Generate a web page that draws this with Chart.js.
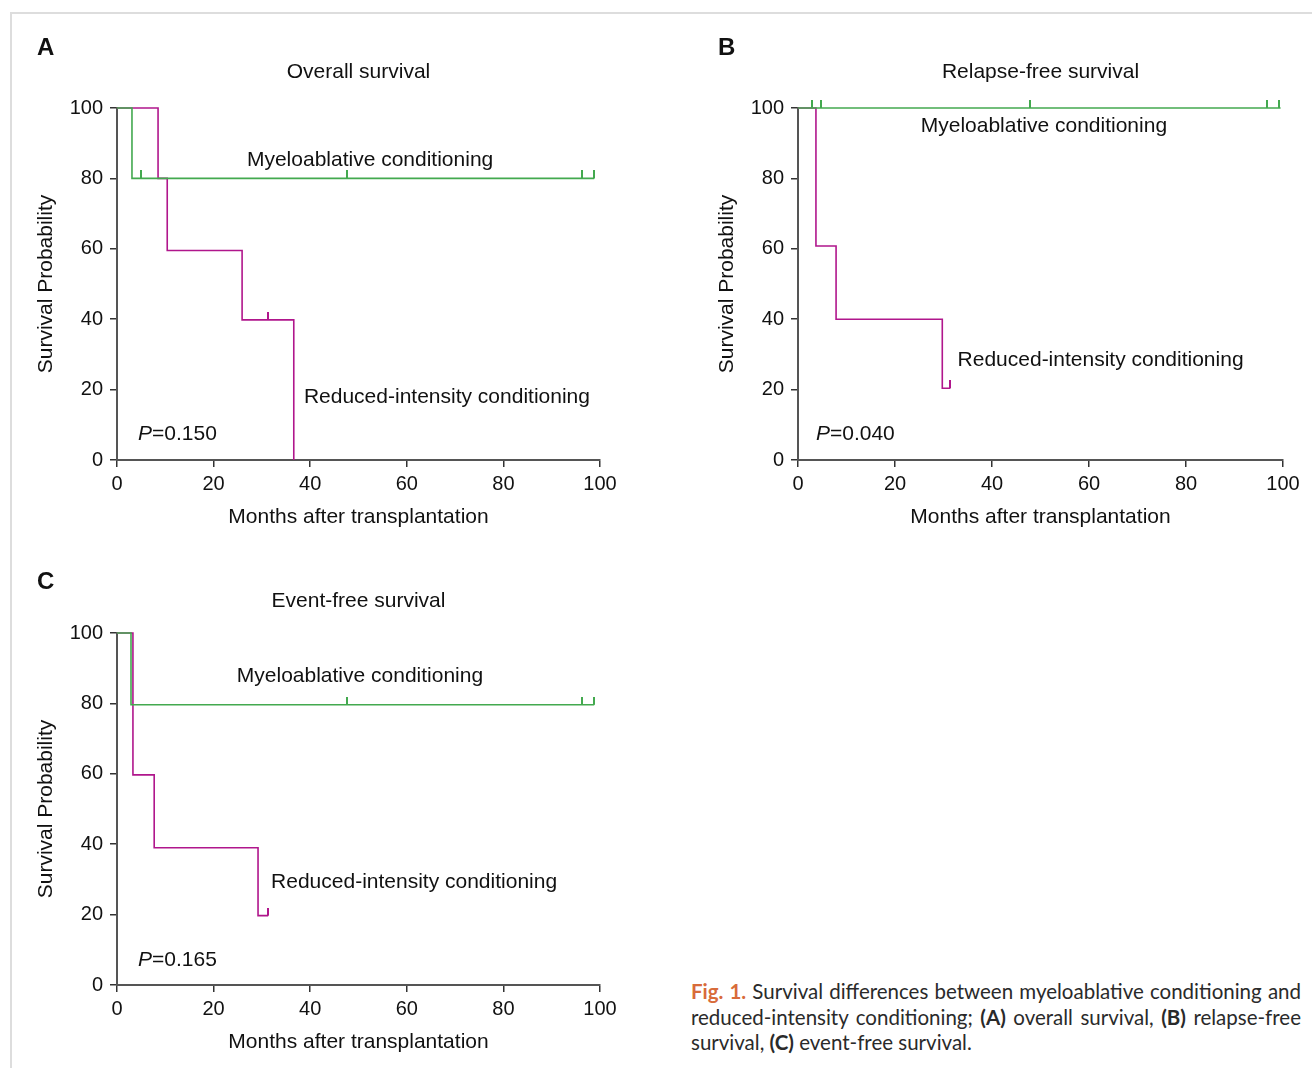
<!DOCTYPE html>
<html>
<head>
<meta charset="utf-8">
<script src="https://cdn.jsdelivr.net/npm/chart.js@4.4.1/dist/chart.umd.min.js"></script>
<style>
html, body { margin: 0; padding: 0; background: #fff; }
body { width: 1312px; height: 1068px; overflow: hidden; position: relative; }
.frame { position: absolute; left: 10px; top: 12px; width: 1310px; height: 1060px; border-top: 2px solid #ddd; border-left: 2px solid #ddd; }
canvas { position: absolute; }
#capt { position: absolute; left: 691px; top: 979px; width: 610px; font-family: Lato, "Noto Sans", sans-serif; font-size: 20.5px; line-height: 25.5px; color: #2a2a2a; }
#capt div { text-align: justify; text-align-last: justify; }
#capt div.last { text-align-last: left; }
#capt .fig { color: #d86b3a; }
</style>
</head>
<body>
<div class="frame"></div>
<canvas id="cA" width="650" height="515" style="left:20px;top:30px"></canvas>
<canvas id="cB" width="611" height="515" style="left:701px;top:30px"></canvas>
<canvas id="cC" width="650" height="515" style="left:20px;top:555px"></canvas>
<div id="capt">
  <div><b class="fig">Fig. 1.</b> Survival differences between myeloablative conditioning and</div>
  <div>reduced-intensity conditioning; <b>(A)</b> overall survival, <b>(B)</b> relapse-free</div>
  <div class="last">survival, <b>(C)</b> event-free survival.</div>
</div>
<script>
const xTicks = [0, 20, 40, 60, 80, 100];
const yTicks = [0, 20, 40, 60, 80, 100];

// A - overall survival
const osMacTime = [0, 3.1, 98.8];
const osMacSurv = [100, 80, 80];
const osMacCens = [5, 47.6, 96.3, 98.8];
const osRicTime = [0, 8.5, 10.4, 25.9, 36.6];
const osRicSurv = [100, 80, 59.5, 39.8, 0];
const osRicCens = [31.3];

// B - relapse-free survival
const rfsMacTime = [0, 99.5];
const rfsMacSurv = [100, 100];
const rfsMacCens = [2.9, 4.75, 47.9, 96.7, 99.2];
const rfsRicTime = [0, 3.7, 7.85, 29.75, 31.4];
const rfsRicSurv = [100, 60.8, 40, 20.4, 20.4];
const rfsRicCens = [31.4];

// C - event-free survival
const efsMacTime = [0, 2.9, 98.8];
const efsMacSurv = [100, 79.6, 79.6];
const efsMacCens = [47.6, 96.3, 98.8];
const efsRicTime = [0, 3.3, 7.7, 29.2, 31.3];
const efsRicSurv = [100, 59.7, 39, 19.7, 19.7];
const efsRicCens = [31.3];

const GREEN = '#43a94f';
const MAGENTA = '#b0168c';
const FONT = '"Liberation Sans", Arial, sans-serif';

function survAt(times, surv, t) {
    let v = surv[0];
    for (let i = 0; i < times.length; i++) {
        if (times[i] <= t) v = surv[i];
    }
    return v;
}

function tickMark(color) {
    const c = document.createElement('canvas');
    c.width = 2;
    c.height = 16;
    const g = c.getContext('2d');
    g.fillStyle = color;
    g.fillRect(0, 0, 2, 8);
    return c;
}

function curve(times, surv, color) {
    return {
        data: times.map((t, i) => ({ x: t, y: surv[i] })),
        borderColor: color,
        borderWidth: 1.6,
        stepped: 'before',
        pointRadius: 0,
        fill: false,
        clip: false
    };
}

function censored(cens, times, surv, color) {
    return {
        data: cens.map(t => ({ x: t, y: survAt(times, surv, t) })),
        showLine: false,
        pointStyle: tickMark(color),
        pointRadius: 4,
        clip: false
    };
}

const panelText = {
    id: 'panelText',
    afterDraw(chart, args, opts) {
        const { ctx, chartArea } = chart;
        const x = chart.scales.x, y = chart.scales.y;
        ctx.save();
        ctx.fillStyle = '#111';
        ctx.textBaseline = 'middle';
        ctx.textAlign = 'left';
        ctx.font = 'bold 24px ' + FONT;
        ctx.fillText(opts.letter, opts.letterX, opts.letterY);
        ctx.font = '21px ' + FONT;
        ctx.textAlign = 'center';
        ctx.fillText(opts.title, (chartArea.left + chartArea.right) / 2, chartArea.top - opts.titleGap);
        opts.labels.forEach(l => {
            ctx.textAlign = l.align;
            ctx.fillText(l.text, x.getPixelForValue(l.x), y.getPixelForValue(l.y) + 1);
        });
        // P value with italic P
        const px = x.getPixelForValue(opts.p.x), py = y.getPixelForValue(opts.p.y) + 1;
        ctx.textAlign = 'left';
        ctx.font = 'italic 21px ' + FONT;
        ctx.fillText('P', px, py);
        const w = ctx.measureText('P').width;
        ctx.font = '21px ' + FONT;
        ctx.fillText(opts.p.text, px + w, py);
        ctx.restore();
    }
};

function makeChart(id, datasets, text, pad) {
    new Chart(document.getElementById(id), {
        type: 'line',
        data: { datasets },
        plugins: [panelText],
        options: {
            responsive: false,
            animation: false,
            devicePixelRatio: 1,
            layout: { padding: pad },
            plugins: {
                legend: { display: false },
                tooltip: { enabled: false },
                panelText: text
            },
            scales: {
                x: {
                    type: 'linear',
                    min: 0,
                    max: 100,
                    afterBuildTicks: s => { s.ticks = xTicks.map(v => ({ value: v })); },
                    afterFit: s => { s.height = 75; },
                    grid: { drawOnChartArea: false, drawTicks: true, tickLength: 7, color: '#333', lineWidth: 1.5 },
                    border: { display: true, color: '#555', width: 2 },
                    ticks: { color: '#111', font: { family: FONT, size: 20 }, padding: 5, maxRotation: 0 },
                    title: { display: true, text: 'Months after transplantation', color: '#111', font: { family: FONT, size: 21 }, padding: { top: 0, bottom: 5.4 } }
                },
                y: {
                    type: 'linear',
                    min: 0,
                    max: 100,
                    afterBuildTicks: s => { s.ticks = yTicks.map(v => ({ value: v })); },
                    afterFit: s => { s.width = 97; },
                    grid: { drawOnChartArea: false, drawTicks: true, tickLength: 7, color: '#333', lineWidth: 1.5 },
                    border: { display: true, color: '#555', width: 2 },
                    ticks: { color: '#111', font: { family: FONT, size: 20 }, padding: 7 },
                    title: { display: true, text: 'Survival Probability', color: '#111', font: { family: FONT, size: 21 }, padding: { top: 13.4, bottom: 0 } }
                }
            }
        }
    });
}

makeChart('cA', [
    curve(osMacTime, osMacSurv, GREEN),
    censored(osMacCens, osMacTime, osMacSurv, GREEN),
    curve(osRicTime, osRicSurv, MAGENTA),
    censored(osRicCens, osRicTime, osRicSurv, MAGENTA)
], {
    letter: 'A', letterX: 17, letterY: 18, title: 'Overall survival', titleGap: 36,
    labels: [
        { text: 'Myeloablative conditioning', x: 52.4, y: 85.5, align: 'center' },
        { text: 'Reduced-intensity conditioning', x: 38.7, y: 18.2, align: 'left' }
    ],
    p: { text: '=0.150', x: 4.35, y: 7.7 }
}, { top: 78, left: 0, right: 70, bottom: 10 });

makeChart('cB', [
    curve(rfsMacTime, rfsMacSurv, GREEN),
    censored(rfsMacCens, rfsMacTime, rfsMacSurv, GREEN),
    curve(rfsRicTime, rfsRicSurv, MAGENTA),
    censored(rfsRicCens, rfsRicTime, rfsRicSurv, MAGENTA)
], {
    letter: 'B', letterX: 17, letterY: 18, title: 'Relapse-free survival', titleGap: 36,
    labels: [
        { text: 'Myeloablative conditioning', x: 50.7, y: 95.2, align: 'center' },
        { text: 'Reduced-intensity conditioning', x: 32.9, y: 28.7, align: 'left' }
    ],
    p: { text: '=0.040', x: 3.7, y: 7.7 }
}, { top: 78, left: 0, right: 29, bottom: 10 });

makeChart('cC', [
    curve(efsMacTime, efsMacSurv, GREEN),
    censored(efsMacCens, efsMacTime, efsMacSurv, GREEN),
    curve(efsRicTime, efsRicSurv, MAGENTA),
    censored(efsRicCens, efsRicTime, efsRicSurv, MAGENTA)
], {
    letter: 'C', letterX: 17, letterY: 27, title: 'Event-free survival', titleGap: 32,
    labels: [
        { text: 'Myeloablative conditioning', x: 50.3, y: 88.1, align: 'center' },
        { text: 'Reduced-intensity conditioning', x: 31.9, y: 29.5, align: 'left' }
    ],
    p: { text: '=0.165', x: 4.35, y: 7.4 }
}, { top: 78, left: 0, right: 70, bottom: 10 });
</script>
</body>
</html>
